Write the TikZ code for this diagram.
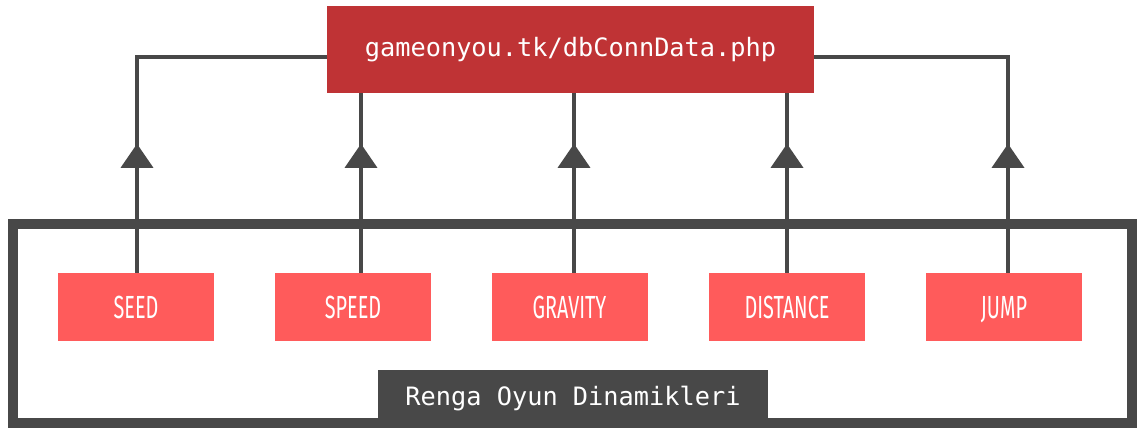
\documentclass[tikz,border=0pt]{standalone}
\usepackage{graphicx}
\usepackage{fontspec}
\setmonofont{DejaVu Sans Mono}
\newfontfamily\labelfont{Fira Sans}
\usetikzlibrary{arrows.meta,decorations.markings}
\definecolor{srvred}{HTML}{BF3335}
\definecolor{fieldred}{HTML}{FF5B5B}
\definecolor{linegray}{HTML}{484848}
\newcommand\narrowtext[1]{\scalebox{0.62}[1]{#1}}
\tikzset{
  server/.style={fill=srvred, text=white, inner sep=0pt,
    minimum width=487pt, minimum height=87pt,
    font=\ttfamily\fontsize{25.3}{30}\selectfont},
  field/.style={fill=fieldred, text=white, inner sep=0pt,
    minimum width=156pt, minimum height=68pt,
    text height=22pt, text depth=0pt,
    font=\labelfont\fontsize{32}{36}\selectfont},
  group/.style={draw=linegray, line width=10pt, inner sep=0pt,
    minimum width=1119pt, minimum height=199pt},
  caption/.style={fill=linegray, text=white, inner sep=0pt,
    minimum width=390pt, minimum height=58pt,
    font=\ttfamily\fontsize{25.3}{30}\selectfont},
  conn/.style={draw=linegray, line width=3.5pt, postaction={decorate},
    decoration={markings, mark=at position 129pt with
      {\arrow[linegray]{Triangle[width=32pt,length=24pt]}}}}
}
\begin{document}
\begin{tikzpicture}[x=1pt,y=-1pt]
  \useasboundingbox (0,0) rectangle (1147,430);

  % grouping frame with its caption
  \node[group] (grp) at (572.5,323.5) {};

  % server endpoint
  \node[server] (srv) at (570.5,49.5) {gameonyou.tk/dbConnData.php};

  % game parameters
  \node[field] (seed)     at (136,307)   {\narrowtext{SEED}};
  \node[field] (speed)    at (353,307)   {\narrowtext{SPEED}};
  \node[field] (gravity)  at (569.5,307) {\narrowtext{GRAVITY}};
  \node[field] (distance) at (787,307)   {\narrowtext{DISTANCE}};
  \node[field] (jump)     at (1004,307)  {\narrowtext{JUMP}};

  % data flow towards the server
  \draw[conn] ([xshift=1pt]seed.north) |- ([yshift=-7.5pt]srv.west);
  \draw[conn] ([xshift=8pt]speed.north) -- ([xshift=8pt]speed.north |- srv.south);
  \draw[conn] ([xshift=4.5pt]gravity.north) -- ([xshift=4.5pt]gravity.north |- srv.south);
  \draw[conn] (distance.north) -- (distance.north |- srv.south);
  \draw[conn] ([xshift=4pt]jump.north) |- ([yshift=-7.5pt]srv.east);

  \node[caption] (cap) at (573,399) {Renga Oyun Dinamikleri};
\end{tikzpicture}
\end{document}
